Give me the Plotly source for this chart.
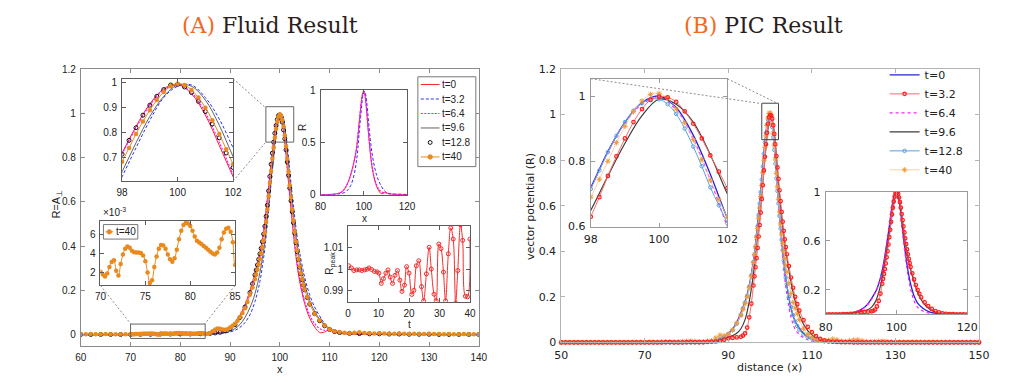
import plotly.graph_objects as go

W, H = 1035, 382

# ---------------- (A) Fluid result ----------------
A_X = [60, 70, 80, 84, 86, 88, 89, 90, 91, 92, 93, 94, 95, 96, 96.5, 97, 97.5, 98, 98.5, 99,
       99.5, 100, 100.5, 101, 101.5, 102, 102.5, 103, 103.5, 104, 105, 106, 107, 108, 109, 110,
       111, 112, 114, 120, 130, 140]
A_T0 = [0, 0, 0, 0.001, 0.004, 0.011, 0.018, 0.03, 0.052, 0.088, 0.135, 0.198, 0.275, 0.37,
        0.43, 0.51, 0.615, 0.72, 0.825, 0.915, 0.975, 0.993, 0.955, 0.87, 0.75, 0.625, 0.51,
        0.4, 0.31, 0.24, 0.14, 0.075, 0.035, 0.01, 0.012, 0.022, 0.012, 0.006, 0.003, 0.001, 0, 0]
A_T3 = [0, 0, 0, 0, 0.002, 0.005, 0.008, 0.012, 0.02, 0.033, 0.055, 0.09, 0.15, 0.24,
        0.31, 0.39, 0.505, 0.625, 0.74, 0.85, 0.94, 0.985, 0.99, 0.94, 0.855, 0.74, 0.63,
        0.53, 0.44, 0.37, 0.26, 0.18, 0.125, 0.085, 0.05, 0.028, 0.016, 0.01, 0.005, 0.002, 0.001, 0]
A_T6 = [0, 0, 0, 0.001, 0.004, 0.011, 0.018, 0.03, 0.05, 0.085, 0.13, 0.195, 0.272, 0.368,
        0.428, 0.508, 0.612, 0.716, 0.82, 0.91, 0.97, 0.99, 0.96, 0.88, 0.762, 0.635, 0.52,
        0.41, 0.32, 0.25, 0.15, 0.09, 0.05, 0.028, 0.02, 0.02, 0.012, 0.006, 0.003, 0.001, 0, 0]
A_T9 = [0, 0.001, 0.002, 0.002, 0.004, 0.007, 0.01, 0.016, 0.028, 0.046, 0.078, 0.122, 0.185, 0.28,
        0.345, 0.42, 0.53, 0.645, 0.76, 0.865, 0.945, 0.99, 0.985, 0.93, 0.83, 0.705, 0.59,
        0.49, 0.405, 0.335, 0.23, 0.155, 0.105, 0.07, 0.045, 0.028, 0.017, 0.01, 0.005, 0.002, 0.001, 0]

A_PK_X = [95.25, 95.5, 95.75, 96, 96.25, 96.5, 96.75, 97, 97.25, 97.5, 97.75, 98, 98.25, 98.5,
          98.75, 99, 99.25, 99.5, 99.75, 100, 100.25, 100.5, 100.75, 101, 101.25, 101.5, 101.75,
          102, 102.25, 102.5, 102.75, 103, 103.25, 103.5, 103.75, 104, 104.25, 104.5, 104.75]

# t=12.8 (open circles)
A12_LO_X = [60, 62, 64, 66, 68, 70, 72, 74, 76, 78, 80, 82, 84, 86, 87, 88, 89, 90, 91, 92, 93, 94, 94.5, 95]
A12_LO = [0.001, 0.001, 0.001, 0.001, 0.001, 0.001, 0.002, 0.002, 0.003, 0.003, 0.003, 0.003,
          0.004, 0.006, 0.008, 0.011, 0.017, 0.027, 0.045, 0.078, 0.125, 0.19, 0.23, 0.27]
A12_PK = [0.292, 0.315, 0.34, 0.365, 0.39, 0.42, 0.455, 0.49, 0.535, 0.585, 0.65, 0.715, 0.77,
          0.82, 0.87, 0.91, 0.945, 0.972, 0.99, 0.993, 0.982, 0.96, 0.925, 0.885, 0.835, 0.78,
          0.72, 0.662, 0.605, 0.555, 0.505, 0.458, 0.415, 0.375, 0.34, 0.305, 0.275, 0.248, 0.224]
A12_HI_X = [105, 105.5, 106, 107, 108, 109, 110, 111, 112, 114, 116, 118, 120, 122, 124, 126,
            128, 130, 132, 134, 136, 138, 140]
A12_HI = [0.203, 0.168, 0.138, 0.095, 0.063, 0.04, 0.024, 0.014, 0.01, 0.006, 0.005, 0.004,
          0.004, 0.003, 0.003, 0.002, 0.002, 0.002, 0.001, 0.001, 0.001, 0.001, 0.001]

# t=40 (filled markers); the 70..85 part is the zoomed inset (units of 1e-3)
A40_LO_X = [60, 61, 62, 63, 64, 65, 66, 67, 68, 69]
A40_LO = [0.002, 0.002, 0.003, 0.002, 0.002, 0.003, 0.002, 0.002, 0.002, 0.002]
A40_IN_X = [70, 70.25, 70.5, 70.75, 71, 71.25, 71.5, 71.75, 72, 72.25, 72.5, 72.75, 73, 73.25,
            73.5, 73.75, 74, 74.25, 74.5, 74.75, 75, 75.25, 75.5, 75.75, 76, 76.25, 76.5, 76.75,
            77, 77.25, 77.5, 77.75, 78, 78.25, 78.5, 78.75, 79, 79.25, 79.5, 79.75, 80, 80.25,
            80.5, 80.75, 81, 81.25, 81.5, 81.75, 82, 82.25, 82.5, 82.75, 83, 83.25, 83.5, 83.75,
            84, 84.25, 84.5, 84.75, 85]
A40_IN_E3 = [2.1, 1.8, 1.6, 1.9, 2.6, 3.1, 3.3, 2.2, 1.7, 2.9, 3.9, 4.5, 4.75, 4.6, 4.3, 4.15,
             4.1, 4.1, 4.05, 3.8, 3.2, 2.0, 0.9, 1.2, 2.6, 3.7, 4.5, 4.9, 4.85, 4.5, 3.9, 3.4,
             3.15, 3.5, 4.4, 5.5, 6.4, 7.0, 7.2, 7.15, 6.9, 6.4, 5.8, 5.35, 5.15, 5.0, 4.8, 4.6,
             4.4, 4.2, 4.0, 3.9, 4.1, 4.6, 5.5, 6.2, 6.6, 6.7, 6.3, 5.2, 2.8]
A40_MID_X = [85.5, 86, 86.5, 87, 87.5, 88, 88.5, 89, 89.5, 90, 90.5, 91, 91.5, 92, 92.5, 93,
             93.5, 94, 94.5, 95]
A40_MID = [0.004, 0.008, 0.016, 0.024, 0.028, 0.027, 0.024, 0.022, 0.025, 0.032, 0.04, 0.05,
           0.063, 0.08, 0.098, 0.12, 0.148, 0.18, 0.213, 0.25]
A40_PK = [0.272, 0.295, 0.318, 0.342, 0.368, 0.395, 0.425, 0.46, 0.51, 0.565, 0.625, 0.685, 0.74,
          0.795, 0.845, 0.89, 0.93, 0.962, 0.985, 0.995, 0.99, 0.97, 0.94, 0.9, 0.85, 0.795,
          0.735, 0.675, 0.62, 0.565, 0.515, 0.465, 0.42, 0.38, 0.342, 0.308, 0.278, 0.25, 0.226]
A40_HI_X = [105, 105.5, 106, 107, 108, 109, 110, 111, 112, 113, 114, 115, 116, 117, 118, 119,
            120, 121, 122, 123, 124, 125, 126, 127, 128, 129, 130, 131, 132, 133, 134, 135, 136,
            137, 138, 139, 140]
A40_HI = [0.205, 0.17, 0.14, 0.095, 0.065, 0.042, 0.025, 0.016, 0.012, 0.009, 0.007, 0.009,
          0.011, 0.008, 0.006, 0.005, 0.006, 0.005, 0.004, 0.004, 0.005, 0.004, 0.003, 0.004,
          0.003, 0.003, 0.004, 0.003, 0.003, 0.002, 0.003, 0.002, 0.002, 0.003, 0.002, 0.002, 0.002]

# peak amplitude versus time
T_PEAK = [0.2, 1.1, 1.9, 2.8, 3.7, 4.5, 5.4, 6.2, 6.9, 7.7, 8.6, 9.5, 10.1, 10.9, 11.6, 12.4,
          13.1, 13.8, 14.6, 15.4, 16.2, 17.0, 17.7, 18.5, 19.2, 20.0, 20.9, 21.6, 22.4, 23.2,
          24.1, 24.8, 25.7, 26.6, 27.3, 28.2, 28.9, 29.8, 30.5, 31.3, 32.0, 32.9, 33.7, 34.5,
          35.3, 36.0, 36.9, 37.6, 38.5, 39.2, 40.0]
R_PEAK = [1.0016, 1.0006, 0.9994, 0.9997, 0.9997, 0.9994, 0.9997, 1.0, 1.0006, 0.9999, 0.999,
          0.9988, 0.9982, 0.9935, 0.9957, 0.9982, 0.9997, 0.9964, 0.9935, 0.9972, 0.9994, 0.995,
          0.9898, 0.9927, 1.0012, 0.9982, 0.9884, 0.9903, 1.0016, 1.0039, 0.992, 0.9855, 0.9979,
          1.0101, 1.0001, 0.9885, 0.9855, 1.0116, 1.0095, 0.9987, 0.9855, 1.0071, 1.019, 1.0139,
          0.9845, 0.9994, 1.0204, 1.0133, 0.9876, 0.9873, 1.0139]

# ---------------- (B) PIC result ----------------
B_X = [50, 60, 70, 80, 84, 86, 88, 89, 90, 91, 92, 93, 94, 94.5, 95, 95.5, 96, 96.5, 97, 97.5,
       98, 98.5, 99, 99.5, 100, 100.5, 101, 101.5, 102, 102.5, 103, 103.5, 104, 104.5, 105,
       105.5, 106, 107, 108, 109, 110, 111, 112, 114, 116, 120, 130, 140, 150]
B_T0 = [0, 0, 0, 0.001, 0.002, 0.005, 0.015, 0.026, 0.04, 0.058, 0.088, 0.13, 0.18,
        0.21, 0.25, 0.3, 0.36, 0.435, 0.525, 0.62, 0.72, 0.83, 0.92, 0.98, 1.0, 0.965, 0.88,
        0.76, 0.625, 0.51, 0.405, 0.32, 0.25, 0.195, 0.15, 0.118, 0.092,
        0.062, 0.04, 0.025, 0.015, 0.009, 0.005, 0.003, 0.002, 0.001, 0, 0, 0]
B_T6 = [0, 0, 0, 0.001, 0.002, 0.005, 0.014, 0.024, 0.038, 0.056, 0.085, 0.125, 0.175,
        0.205, 0.245, 0.295, 0.355, 0.43, 0.52, 0.618, 0.718, 0.828, 0.918, 0.975, 0.995, 0.958,
        0.868, 0.742, 0.6, 0.48, 0.37, 0.28, 0.21, 0.155, 0.11, 0.08, 0.058,
        0.035, 0.02, 0.012, 0.007, 0.004, 0.002, 0.001, 0.001, 0, 0, 0, 0]
B_T9 = [0, 0, 0, 0.001, 0.002, 0.005, 0.012, 0.017, 0.023, 0.03, 0.04, 0.06, 0.1,
        0.135, 0.18, 0.235, 0.3, 0.385, 0.47, 0.56, 0.65, 0.755, 0.855, 0.94, 0.99, 0.975,
        0.92, 0.82, 0.7, 0.6, 0.51, 0.435, 0.37, 0.315, 0.265, 0.22, 0.18,
        0.12, 0.08, 0.052, 0.033, 0.02, 0.012, 0.005, 0.003, 0.001, 0, 0, 0]

B_LO_X = [50, 51, 52, 53, 54, 55, 56, 57, 58, 59, 60, 61, 62, 63, 64, 65, 66, 67, 68, 69, 70,
          71, 72, 73, 74, 75, 76, 77, 78, 79, 80, 81, 82, 83, 84, 85, 86, 87, 88, 89, 90, 91, 92, 93]
B_M1_X = [93.5, 94, 94.5, 95, 95.5, 96]
B_PK_X = [96.25, 96.5, 96.75, 97, 97.25, 97.5, 97.75, 98, 98.25, 98.5, 98.75, 99, 99.25, 99.5,
          99.75, 100, 100.25, 100.5, 100.75, 101, 101.25, 101.5, 101.75, 102, 102.25, 102.5,
          102.75, 103, 103.25, 103.5, 103.75]
B_M2_X = [104, 104.5, 105, 105.5, 106, 106.5]
B_HI_X = [107, 108, 109, 110, 111, 112, 113, 114, 115, 116, 117, 118, 119, 120, 121, 122, 123,
          124, 125, 126, 127, 128, 129, 130, 131, 132, 133, 134, 135, 136, 137, 138, 139, 140,
          141, 142, 143, 144, 145, 146, 147, 148, 149, 150]

B3_LO = [0, 0, 0, 0, 0, 0, 0, 0, 0, 0, 0, 0, 0, 0, 0, 0, 0, 0, 0, 0,
         0, 0, 0, 0, 0, 0.001, 0.001, 0, 0, 0, 0.001, 0.001, 0.001, 0.001, 0.001,
         0.002, 0.003, 0.004, 0.007, 0.012, 0.018, 0.02, 0.022, 0.025]
B3_M1 = [0.03, 0.04, 0.065, 0.11, 0.17, 0.25]
B3_PK = [0.29, 0.33, 0.37, 0.415, 0.465, 0.515, 0.57, 0.63, 0.69, 0.755, 0.815, 0.87, 0.92, 0.96,
         0.988, 0.998, 0.996, 0.982, 0.953, 0.915, 0.87, 0.818, 0.768, 0.718, 0.668, 0.62,
         0.573, 0.53, 0.49, 0.452, 0.418]
B3_M2 = [0.387, 0.335, 0.285, 0.24, 0.2, 0.168]
B3_HI = [0.14, 0.098, 0.068, 0.045, 0.028, 0.016, 0.009, 0.005, 0.003, 0.002,
         0.001, 0.001, 0.001, 0, 0, 0, 0, 0, 0, 0, 0, 0, 0, 0, 0, 0, 0,
         0, 0, 0, 0, 0, 0, 0, 0, 0, 0, 0, 0, 0, 0, 0, 0, 0]

B12_LO = [0, 0, 0, 0, 0, 0, 0, 0, 0, 0, 0, 0, 0, 0, 0, 0, 0, 0, 0, 0,
          0, 0, 0, 0, 0, 0, 0, 0, 0, 0, 0, 0, 0, 0, 0,
          0.003, 0.006, 0.01, 0.016, 0.024, 0.036, 0.054, 0.082, 0.12]
B12_M1 = [0.15, 0.175, 0.205, 0.245, 0.295, 0.352]
B12_PK = [0.385, 0.42, 0.465, 0.51, 0.56, 0.61, 0.66, 0.715, 0.772, 0.828, 0.878, 0.92, 0.955,
          0.978, 0.99, 0.99, 0.975, 0.945, 0.9, 0.845, 0.785, 0.72, 0.665, 0.61, 0.555, 0.5,
          0.45, 0.405, 0.36, 0.32, 0.285]
B12_M2 = [0.255, 0.2, 0.155, 0.12, 0.092, 0.072]
B12_HI = [0.056, 0.035, 0.024, 0.018, 0.012, 0.008, 0.005, 0.004, 0.003, 0.003,
          0.002, 0.002, 0.002, 0.001, 0.001, 0.001, 0.001, 0.001, 0.001, 0.001,
          0, 0, 0, 0, 0, 0, 0, 0, 0, 0, 0, 0, 0, 0, 0, 0, 0, 0, 0, 0, 0, 0, 0, 0]

B40_LO = [0, 0, 0, 0, 0, 0, 0, 0, 0, 0, 0, 0, 0, 0, 0, 0, 0, 0, 0.001, 0.001,
          0.001, 0.002, 0.002, 0.001, 0.002, 0.003, 0.002, 0.002, 0.003, 0.004,
          0.005, 0.006, 0.004, 0.003, 0.003,
          0.005, 0.008, 0.02, 0.032, 0.03, 0.036, 0.055, 0.085, 0.12]
B40_M1 = [0.145, 0.17, 0.2, 0.24, 0.29, 0.35]
B40_PK = [0.385, 0.42, 0.46, 0.5, 0.545, 0.59, 0.64, 0.69, 0.745, 0.8, 0.857, 0.907, 0.952,
          0.985, 1.005, 1.008, 0.993, 0.96, 0.918, 0.866, 0.805, 0.742, 0.683, 0.628, 0.573,
          0.52, 0.475, 0.435, 0.4, 0.37, 0.34]
B40_M2 = [0.31, 0.26, 0.215, 0.175, 0.15, 0.125]
B40_HI = [0.1, 0.06, 0.035, 0.022, 0.014, 0.008, 0.006, 0.01, 0.015, 0.012,
          0.006, 0.004, 0.007, 0.011, 0.012, 0.008, 0.004, 0.003, 0.004, 0.005,
          0.006, 0.004, 0.002, 0.002, 0.002, 0.001, 0.001, 0.002, 0.002, 0.001,
          0.001, 0.001, 0.002, 0.001, 0.001, 0.001, 0.001, 0.001, 0.001, 0.001,
          0.001, 0.001, 0.001, 0.001]

LABELS = ["t=0", "t=3.2", "t=6.4", "t=9.6", "t=12.8", "t=40"]

# assemble series
A12_X = A12_LO_X + A_PK_X + A12_HI_X
A12_Y = A12_LO + A12_PK + A12_HI
A40_X = A40_LO_X + A40_IN_X + A40_MID_X + A_PK_X + A40_HI_X
A40_Y = A40_LO + [v * 1e-3 for v in A40_IN_E3] + A40_MID + A40_PK + A40_HI
B_XM = B_LO_X + B_M1_X + B_PK_X + B_M2_X + B_HI_X
B3_Y = B3_LO + B3_M1 + B3_PK + B3_M2 + B3_HI
B12_Y = B12_LO + B12_M1 + B12_PK + B12_M2 + B12_HI
B40_Y = B40_LO + B40_M1 + B40_PK + B40_M2 + B40_HI
for a, b in [(A_X, A_T0), (A_X, A_T3), (A_X, A_T6), (A_X, A_T9), (A12_X, A12_Y), (A40_X, A40_Y),
             (T_PEAK, R_PEAK), (B_X, B_T0), (B_X, B_T6), (B_X, B_T9), (B_XM, B3_Y),
             (B_XM, B12_Y), (B_XM, B40_Y)]:
    assert len(a) == len(b), (len(a), len(b))


def px(x):
    return x / W


def py(y):
    return 1 - y / H


def dx(a, b):
    return [px(a), px(b)]


def dy(top, bot):
    return [py(bot), py(top)]


FA = dict(family="Liberation Sans", size=10, color="#222")
FB = dict(family="DejaVu Sans", size=11, color="#222")

fig = go.Figure()

# style per curve
A_STY = {
    "t=0": dict(mode="lines", line=dict(color="#f4262a", width=1)),
    "t=3.2": dict(mode="lines", line=dict(color="#2830ff", width=1, dash="3px,2px")),
    "t=6.4": dict(mode="lines", line=dict(color="#ff10ff", width=1.2, dash="2px,1.5px")),
    "t=9.6": dict(mode="lines", line=dict(color="#3a3a3a", width=0.8)),
    "t=12.8": dict(mode="markers", marker=dict(symbol="circle-open", size=4, color="#111",
                                               line=dict(width=1))),
    "t=40": dict(mode="lines+markers", line=dict(color="#e98a1e", width=1),
                 marker=dict(symbol="circle", size=4.5, color="#e98a1e")),
}
A_DATA = {"t=0": (A_X, A_T0), "t=3.2": (A_X, A_T3), "t=6.4": (A_X, A_T6),
          "t=9.6": (A_X, A_T9), "t=12.8": (A12_X, A12_Y), "t=40": (A40_X, A40_Y)}


def add(x, y, sty, xa, ya, name, show=False, **kw):
    fig.add_trace(go.Scatter(x=x, y=y, name=name, xaxis=xa, yaxis=ya, showlegend=show,
                             line_shape="spline", hoverinfo="skip", **sty, **kw))


for k in LABELS:
    add(*A_DATA[k], A_STY[k], "x", "y", k)
for k in LABELS:
    add(*A_DATA[k], A_STY[k], "x2", "y2", k)
for k in ["t=0", "t=3.2", "t=6.4"]:
    add(*A_DATA[k], A_STY[k], "x3", "y3", k)
add(A40_X, A40_Y, A_STY["t=40"], "x4", "y4", "t=40")
add(T_PEAK, R_PEAK, dict(mode="lines+markers", line=dict(color="#f42b2b", width=1),
                         marker=dict(symbol="circle-open", size=4, color="#f42b2b")),
    "x5", "y5", "peak")

B_STY = {
    "t=0": dict(mode="lines", line=dict(color="#2323d8", width=1.3)),
    "t=3.2": dict(mode="lines+markers", line=dict(color="#ff6a6a", width=1),
                  marker=dict(symbol="circle-open", size=3.5, color="#ff1f1f", line=dict(width=1.2))),
    "t=6.4": dict(mode="lines", line=dict(color="#ff20ff", width=1.2, dash="dot")),
    "t=9.6": dict(mode="lines", line=dict(color="#3c3c3c", width=1.2)),
    "t=12.8": dict(mode="lines+markers", line=dict(color="#5aa2dc", width=1),
                   marker=dict(symbol="circle-open", size=3.5, color="#5aa2dc", line=dict(width=1))),
    "t=40": dict(mode="lines+markers", line=dict(color="#f8c890", width=0.8),
                 marker=dict(symbol="asterisk-open", size=4.5, color="#f09a3a", line=dict(width=1))),
}
B_DATA = {"t=0": (B_X, B_T0), "t=3.2": (B_XM, B3_Y), "t=6.4": (B_X, B_T6),
          "t=9.6": (B_X, B_T9), "t=12.8": (B_XM, B12_Y), "t=40": (B_XM, B40_Y)}
B_ORDER = ["t=0", "t=6.4", "t=9.6", "t=12.8", "t=40", "t=3.2"]
for k in B_ORDER:
    add(*B_DATA[k], B_STY[k], "x6", "y6", k, show=True,
        legendrank=LABELS.index(k) + 1, cliponaxis=False)
for k in B_ORDER:
    add(*B_DATA[k], B_STY[k], "x7", "y7", k)
for k in ["t=0", "t=6.4", "t=9.6", "t=3.2"]:
    add(*B_DATA[k], B_STY[k], "x8", "y8", k)


def axis(dom, rng, tv, color, font, anchor, **kw):
    d = dict(domain=dom, range=rng, tickvals=tv, showline=True, mirror="ticks",
             linecolor=color, linewidth=1, ticks="inside", ticklen=4, tickcolor=color,
             showgrid=False, zeroline=False, tickfont=font, anchor=anchor, fixedrange=True,
             ticklabelstandoff=2)
    d.update(kw)
    return d


GA, GI = "#8a8a8a", "#5c5c5c"
GB, GBI = "#b4b4b4", "#9a9a9a"
fig.update_layout(
    xaxis=axis(dx(67, 472), [60, 140], [60, 70, 80, 90, 100, 110, 120, 130, 140], GA, FA, "y"),
    yaxis=axis(dy(57, 344), [-0.0524, 1.2], [0, 0.2, 0.4, 0.6, 0.8, 1, 1.2], GA, FA, "x"),
    xaxis2=axis(dx(109, 222), [98, 102], [98, 100, 102], GI, FA, "y2"),
    yaxis2=axis(dy(67, 173), [0.608, 1.015], [0.7, 0.8, 0.9, 1], GI, FA, "x2"),
    xaxis3=axis(dx(311, 399), [80, 120], [80, 100, 120], GI, FA, "y3"),
    yaxis3=axis(dy(79, 187), [0, 1], [0, 0.5, 1], GI, FA, "x3"),
    xaxis4=axis(dx(87, 224), [70, 85], [70, 75, 80, 85], GI, FA, "y4"),
    yaxis4=axis(dy(214, 281), [0.00065, 0.00745], [0.002, 0.004, 0.006], GI, FA, "x4",
                ticktext=["2", "4", "6"]),
    xaxis5=axis(dx(339, 463), [0, 40], [0, 10, 20, 30, 40], GI, FA, "y5"),
    yaxis5=axis(dy(219, 298), [0.985, 1.0201], [0.99, 1, 1.01], GI, FA, "x5"),
    xaxis6=axis(dx(556, 981), [50, 150], [50, 70, 90, 110, 130, 150], GB, FB, "y6"),
    yaxis6=axis(dy(57, 340), [0, 1.2], [0, 0.2, 0.4, 0.6, 0.8, 1, 1.2], GB, FB, "x6"),
    xaxis7=axis(dx(586, 725), [98, 102], [98, 100, 102], GBI, FB, "y7"),
    yaxis7=axis(dy(67, 220), [0.6, 1.053], [0.6, 0.8, 1], GBI, FB, "x7"),
    xaxis8=axis(dx(825, 969), [80, 120], [80, 100, 120], GBI, FB, "y8"),
    yaxis8=axis(dy(184, 311), [0, 1], [0.2, 0.6, 1], GBI, FB, "x8"),
    legend=dict(x=px(885), y=py(48), xanchor="left", yanchor="top", bgcolor="rgba(0,0,0,0)",
                borderwidth=0, font=FB, itemwidth=30, traceorder="normal", tracegroupgap=0),
    width=W, height=H, margin=dict(l=0, r=0, t=0, b=0),
    paper_bgcolor="white", plot_bgcolor="white",
)

# titles and axis labels
TF = dict(family="DejaVu Serif", size=22, color="#2b1d1d")
ann = [
    dict(x=px(260), y=py(12), text="<span style='color:#f26a1f'>(A)</span> Fluid Result", font=TF),
    dict(x=px(762), y=py(12), text="<span style='color:#f26a1f'>(B)</span> PIC Result", font=TF),
    dict(x=px(270), y=py(368), text="x", font=dict(FA, size=11)),
    dict(x=px(43), y=py(197), text="R=A<sub>⊥</sub>", textangle=-90, font=dict(FA, size=11)),
    dict(x=px(356), y=py(212), text="x", font=FA),
    dict(x=px(292), y=py(117), text="R", textangle=-90, font=FA),
    dict(x=px(401), y=py(321), text="t", font=FA),
    dict(x=px(321), y=py(258), text="R<sub>peak</sub>", textangle=-90, font=FA),
    dict(x=px(101), y=py(205), text="×10<sup>-3</sup>", font=FA),
    dict(x=px(768), y=py(366), text="distance (x)", font=FB),
    dict(x=px(524), y=py(199), text="vector potential (R)", textangle=-90, font=FB),
]
for a in ann:
    a.update(xref="paper", yref="paper", showarrow=False, xanchor="center", yanchor="middle")

# zoom boxes and connecting dashed lines
DASH = dict(color="#8c8c8c", width=1, dash="2px,2px")
shapes = [
    dict(type="rect", xref="x", yref="y", x0=97.2, x1=102.8, y0=0.87, y1=1.03,
         line=dict(color="#666", width=1)),
    dict(type="rect", xref="x", yref="y", x0=70, x1=85, y0=-0.017, y1=0.048,
         line=dict(color="#666", width=1)),
    dict(type="rect", xref="x6", yref="y6", x0=98, x1=102, y0=0.89, y1=1.05,
         line=dict(color="#444", width=1)),
]
for (x0, y0, x1, y1) in [(222, 67, 255, 97), (222, 173, 255, 133), (87, 281, 118, 321),
                         (224, 281, 193, 321), (586, 67, 761, 93), (725, 67, 777, 93)]:
    shapes.append(dict(type="line", xref="paper", yref="paper", x0=px(x0), y0=py(y0),
                       x1=px(x1), y1=py(y1), line=DASH))


# compact boxed legends of panel A (drawn as glyphs + text)
def legend_box(box, entries, x_line, x_text):
    l, t, r, b = box
    shapes.append(dict(type="rect", xref="paper", yref="paper", x0=px(l), x1=px(r),
                       y0=py(b), y1=py(t), fillcolor="white", line=dict(color="#777", width=1)))
    for (k, yc) in entries:
        sty = A_STY[k]
        if "lines" in sty["mode"]:
            shapes.append(dict(type="line", xref="paper", yref="paper", x0=px(x_line[0]),
                               x1=px(x_line[1]), y0=py(yc), y1=py(yc), line=sty["line"]))
        if "markers" in sty["mode"]:
            m = sty["marker"]
            xm = (x_line[0] + x_line[1]) / 2
            rr = m["size"] / 2
            filled = m["symbol"] == "circle"
            shapes.append(dict(type="circle", xref="paper", yref="paper",
                               x0=px(xm - rr), x1=px(xm + rr), y0=py(yc + rr), y1=py(yc - rr),
                               fillcolor=m["color"] if filled else "white",
                               line=dict(color=m["color"], width=1)))
        ann.append(dict(xref="paper", yref="paper", x=px(x_text), y=py(yc), text=k,
                        showarrow=False, xanchor="left", yanchor="middle", font=FA))


legend_box((410, 65, 469, 158), [(k, 73 + 15 * i) for i, k in enumerate(LABELS)], (413, 432), 433)
legend_box((90, 218, 125, 233), [("t=40", 225.5)], (92, 100), 101)

fig.update_layout(annotations=ann, shapes=shapes)

fig.write_html("out.html")
